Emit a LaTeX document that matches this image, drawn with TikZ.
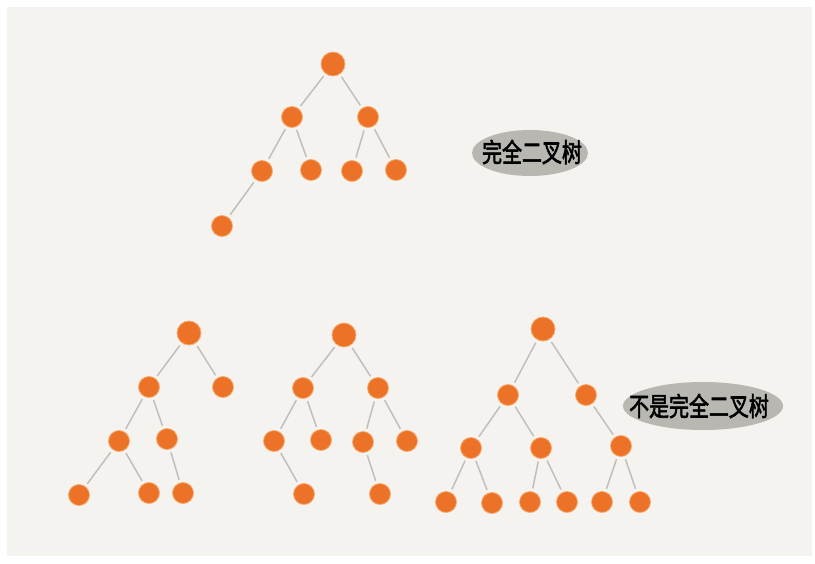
\documentclass[tikz,border=0pt]{standalone}
\usepackage{fontspec}
\usepackage{xcolor}
\usepackage{tikz}
\newfontfamily\cjk[AutoFakeBold=2.5]{Noto Sans CJK SC}
\definecolor{paper}{RGB}{244,243,240}
\definecolor{dot}{RGB}{236,114,40}
\definecolor{dotrim}{RGB}{248,172,112}
\definecolor{twig}{RGB}{192,191,188}
\definecolor{tagfill}{RGB}{184,183,178}
\newcommand{\tagtext}[1]{\scalebox{0.95}[1.25]{#1}}

\begin{document}
\begin{tikzpicture}[x=1pt,y=-1pt,
  dotnode/.style={shape=circle,draw=dotrim,line width=0.8pt,fill=dot,minimum size=21pt,inner sep=0pt},
  rootnode/.style={dotnode,minimum size=24pt},
  twigline/.style={draw=twig,line width=1.5pt,shorten <=3pt,shorten >=3pt},
  tagnode/.style={inner sep=0pt,font=\cjk\bfseries\fontsize{21}{21}\selectfont}]
\useasboundingbox (0,0) rectangle (815,563);
\fill[white] (0,0) rectangle (815,563);
\fill[paper] (7,7) rectangle (812,556);
% complete tree
\node[rootnode] (a) at (333,64) {};
\node[dotnode] (a1) at (292,117) {};
\node[dotnode] (a2) at (368,117) {};
\node[dotnode] (a11) at (262,171) {};
\node[dotnode] (a12) at (311,170) {};
\node[dotnode] (a21) at (352,171) {};
\node[dotnode] (a22) at (396,170) {};
\node[dotnode] (a111) at (222,226) {};
\fill[tagfill] (530,153) ellipse [x radius=58pt,y radius=23pt];
\node[tagnode] (ta) at (532,152) {\tagtext{完全二叉树}};
% not complete, first
\node[rootnode] (b) at (189,333) {};
\node[dotnode] (b1) at (149,387) {};
\node[dotnode] (b2) at (223,387) {};
\node[dotnode] (b11) at (119,441) {};
\node[dotnode] (b12) at (167,439) {};
\node[dotnode] (b111) at (79,495) {};
\node[dotnode] (b112) at (149,493) {};
\node[dotnode] (b122) at (183,493) {};
% not complete, second
\node[rootnode] (c) at (344,335) {};
\node[dotnode] (c1) at (303,388) {};
\node[dotnode] (c2) at (378,388) {};
\node[dotnode] (c11) at (274,441) {};
\node[dotnode] (c12) at (321,440) {};
\node[dotnode] (c21) at (363,442) {};
\node[dotnode] (c22) at (407,441) {};
\node[dotnode] (c112) at (304,494) {};
\node[dotnode] (c212) at (380,494) {};
% not complete, third
\node[rootnode] (d) at (543,329) {};
\node[dotnode] (d1) at (508,395) {};
\node[dotnode] (d2) at (586,395) {};
\node[dotnode] (d11) at (471,448) {};
\node[dotnode] (d12) at (541,448) {};
\node[dotnode] (d22) at (621,446) {};
\node[dotnode] (d111) at (446,502) {};
\node[dotnode] (d112) at (492,503) {};
\node[dotnode] (d121) at (530,502) {};
\node[dotnode] (d122) at (567,502) {};
\node[dotnode] (d221) at (602,502) {};
\node[dotnode] (d222) at (640,502) {};
\fill[tagfill] (703,406) ellipse [x radius=80pt,y radius=24pt];
\node[tagnode] (tb) at (699,406) {\tagtext{不是完全二叉树}};
% edges
\foreach \p/\q in {a/a1,a/a2,a1/a11,a1/a12,a2/a21,a2/a22,a11/a111,
  b/b1,b/b2,b1/b11,b1/b12,b11/b111,b11/b112,b12/b122,
  c/c1,c/c2,c1/c11,c1/c12,c2/c21,c2/c22,c11/c112,c21/c212,
  d/d1,d/d2,d1/d11,d1/d12,d2/d22,d11/d111,d11/d112,d12/d121,d12/d122,d22/d221,d22/d222}
  \path[twigline] (\p) -- (\q);
\end{tikzpicture}
\end{document}
